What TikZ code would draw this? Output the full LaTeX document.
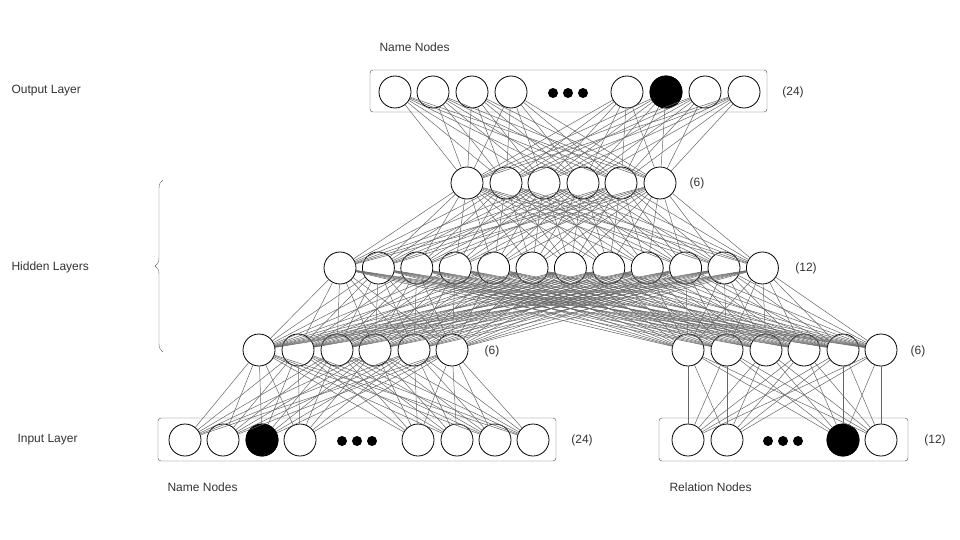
\documentclass[tikz,border=0pt]{standalone}
\usepackage{fontspec}
\setmainfont{Liberation Sans}
\usetikzlibrary{positioning,calc,decorations.pathreplacing}

\tikzset{
  neuron/.style={circle,draw,thick,fill=white,minimum size=32pt,inner sep=0pt},
  hot/.style={neuron,fill=black},
  edge/.style={draw=black!60,line width=0.5pt},
  layerbox/.style={draw=black!70,rounded corners=3pt},
  lbl/.style={font=\fontsize{12}{14}\selectfont,text=black!80},
  dot/.style={circle,fill=black,inner sep=0pt,minimum size=10pt}
}

\begin{document}
\begin{tikzpicture}[x=1pt,y=-1pt]
  \useasboundingbox (0,0) rectangle (960,540);
  % boxes
  \draw[layerbox] (370,70) rectangle (767,112);
  \draw[layerbox] (158,418) rectangle (556,461);
  \draw[layerbox] (659,418) rectangle (908,461);
  % output layer
  \foreach \x [count=\i] in {395,433,472,511,627,666,705,744}
    \node[neuron] (o\i) at (\x,92) {};
  \node[hot] at (o6) {};
  \foreach \x in {553,568,583} \node[dot] at (\x,93) {};
  % hidden layers
  \foreach \x [count=\i] in {467,506,544,583,621,660}
    \node[neuron] (t\i) at (\x,183) {};
  \foreach \i in {1,...,12}
    \node[neuron] (m\i) at ({340+38.4*(\i-1)},268) {};
  \foreach \x [count=\i] in {259,298,337,375,414,452}
    \node[neuron] (l\i) at (\x,350) {};
  \foreach \x [count=\i] in {688,727,766,804,843,881}
    \node[neuron] (r\i) at (\x,350) {};
  % input layer
  \foreach \x [count=\i] in {185,223,262,300,418,457,495,533}
    \node[neuron] (a\i) at (\x,440) {};
  \node[hot] at (a3) {};
  \foreach \x in {342,357,372} \node[dot] at (\x,441) {};
  \foreach \x [count=\i] in {688,727,843,881}
    \node[neuron] (b\i) at (\x,440) {};
  \node[hot] at (b3) {};
  \foreach \x in {768,783,798} \node[dot] at (\x,441) {};
  % connections
  \foreach \i in {1,...,8} \foreach \j in {1,...,6} \draw[edge] (o\i) -- (t\j);
  \foreach \i in {1,...,6} \foreach \j in {1,...,12} \draw[edge] (t\i) -- (m\j);
  \foreach \i in {1,...,12} \foreach \j in {1,...,6} {
    \draw[edge] (m\i) -- (l\j);
    \draw[edge] (m\i) -- (r\j);
  }
  \foreach \i in {1,...,6} \foreach \j in {1,...,8} \draw[edge] (l\i) -- (a\j);
  \foreach \i in {1,...,6} \foreach \j in {1,...,4} \draw[edge] (r\i) -- (b\j);
  % sizes
  \node[lbl] at (793,92) {(24)};
  \node[lbl] at (697,183) {(6)};
  \node[lbl] at (806,268) {(12)};
  \node[lbl] at (492,351) {(6)};
  \node[lbl] at (918,351) {(6)};
  \node[lbl] at (582,440) {(24)};
  \node[lbl] at (935,440) {(12)};
  % layer names
  \node[lbl,anchor=west] (outname) at (8,91) {Output Layer};
  \node[lbl,anchor=west] (hidname) at (8,267) {Hidden Layers};
  \node[lbl,anchor=west] (inname) at (14,440) {Input Layer};
  \node[lbl,anchor=west] (topname) at (376,47) {Name Nodes};
  \node[lbl,anchor=west] (leftname) at (164,487) {Name Nodes};
  \node[lbl,anchor=west] (rightname) at (666,487) {Relation Nodes};
  \draw[black!60,decoration={brace,amplitude=8pt},decorate] (163,352) -- (163,180);
\end{tikzpicture}
\end{document}
